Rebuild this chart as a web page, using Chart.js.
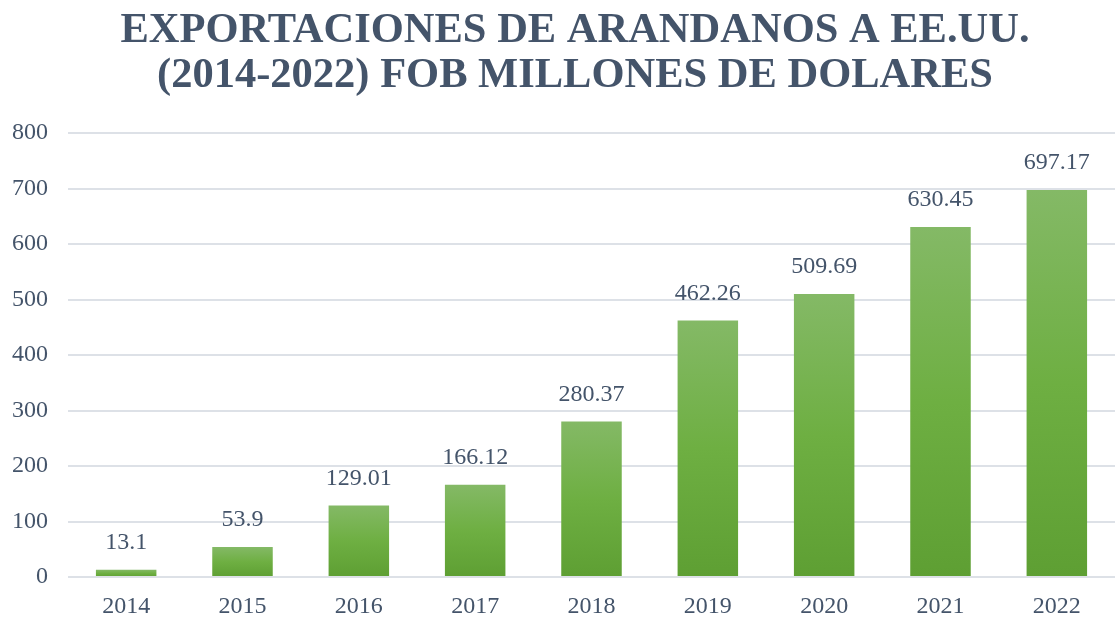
<!DOCTYPE html>
<html>
<head>
<meta charset="utf-8">
<script src="https://cdn.jsdelivr.net/npm/chart.js@4"></script>
<style>
  html, body { margin: 0; padding: 0; background: #fff; }
  #wrap { width: 1115px; height: 617px; position: relative; }
</style>
</head>
<body>
<div id="wrap"><canvas id="barChart"></canvas></div>
<script>
// años (eje X)
const years = ['2014', '2015', '2016', '2017', '2018', '2019', '2020', '2021', '2022'];
// FOB millones de dólares
const fobValues = [13.1, 53.9, 129.01, 166.12, 280.37, 462.26, 509.69, 630.45, 697.17];
const titleLines = ['EXPORTACIONES DE ARANDANOS A EE.UU.', '(2014-2022) FOB MILLONES DE DOLARES'];

const textColor = '#44546A';
const serif = "'Liberation Serif', 'Times New Roman', serif";

// degradado por barra: claro arriba, oscuro abajo
function barGradient(context) {
  const chart = context.chart;
  if (!chart.chartArea || context.parsed == null) return '#70AD47';
  const y = chart.scales.y;
  const top = y.getPixelForValue(context.parsed.y);
  const bottom = y.getPixelForValue(0);
  if (!isFinite(top) || top === bottom) return '#70AD47';
  const g = chart.ctx.createLinearGradient(0, top, 0, bottom);
  g.addColorStop(0, '#84B966');
  g.addColorStop(0.5, '#6EAF42');
  g.addColorStop(1, '#5E9F33');
  return g;
}

// título en dos líneas, algo desplazado a la derecha como en el original
const titlePlugin = {
  id: 'titleText',
  afterDraw(chart) {
    const ctx = chart.ctx;
    ctx.save();
    ctx.font = 'bold 42.5px ' + serif;
    ctx.fillStyle = textColor;
    ctx.textAlign = 'center';
    ctx.textBaseline = 'middle';
    ctx.fillText(titleLines[0], 575, 31);
    ctx.fillText(titleLines[1], 575, 76);
    ctx.restore();
  }
};

// etiquetas de valor encima de cada barra
const valueLabels = {
  id: 'valueLabels',
  afterDatasetsDraw(chart) {
    const ctx = chart.ctx;
    const meta = chart.getDatasetMeta(0);
    ctx.save();
    ctx.font = '24px ' + serif;
    ctx.fillStyle = textColor;
    ctx.textAlign = 'center';
    ctx.textBaseline = 'bottom';
    meta.data.forEach((bar, i) => {
      ctx.fillText(String(fobValues[i]), bar.x, bar.y - 15);
    });
    ctx.restore();
  }
};

new Chart(document.getElementById('barChart'), {
  type: 'bar',
  data: {
    labels: years,
    datasets: [{
      label: 'FOB',
      data: fobValues,
      backgroundColor: barGradient,
      borderWidth: 0,
      barPercentage: 0.52,
      categoryPercentage: 1
    }]
  },
  options: {
    responsive: true,
    maintainAspectRatio: false,
    animation: false,
    layout: { padding: { top: 133, right: 0, bottom: 0, left: 8 } },
    plugins: {
      legend: { display: false },
      tooltip: { enabled: false },
      title: { display: false }
    },
    scales: {
      y: {
        min: 0,
        max: 800,
        afterFit(scale) { scale.width = 60; },
        ticks: {
          stepSize: 100,
          color: textColor,
          font: { family: serif, size: 24 },
          padding: 20
        },
        grid: { color: '#DDE1E7', lineWidth: 2, drawTicks: false },
        border: { display: false }
      },
      x: {
        afterFit(scale) { scale.height = 40; },
        ticks: {
          color: textColor,
          font: { family: serif, size: 24, lineHeight: 1 },
          padding: 18
        },
        grid: { display: false, drawTicks: false },
        border: { display: false }
      }
    }
  },
  plugins: [valueLabels, titlePlugin]
});
</script>
</body>
</html>
